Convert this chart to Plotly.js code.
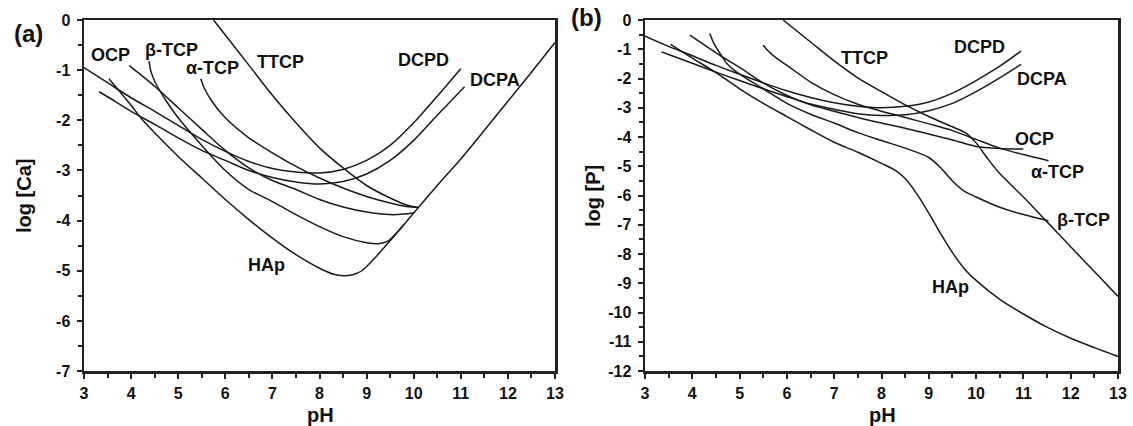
<!DOCTYPE html>
<html>
<head>
<meta charset="utf-8">
<script src="https://cdn.plot.ly/plotly-3.0.1.min.js"></script>
<style>html,body{margin:0;padding:0;background:#fff;}#chart{width:1133px;height:426px;}</style>
</head>
<body>
<div id="chart"></div>
<script>
// ---------- Panel (a): log [Ca] vs pH ----------
const pH_a_DCPD = [3.0,3.5,4.0,4.5,5.0,5.5,6.0,6.5,7.0,7.5,8.0,8.5,9.0,9.5,10.0,10.5,11.0];
const a_DCPD    = [-0.95,-1.25,-1.55,-1.82,-2.1,-2.38,-2.62,-2.82,-2.96,-3.03,-3.05,-2.98,-2.8,-2.5,-2.05,-1.52,-0.97];
const pH_a_DCPA = [3.32,3.5,4.0,4.5,5.0,5.5,6.0,6.5,7.0,7.5,8.0,8.5,9.0,9.5,10.0,10.5,11.08];
const a_DCPA    = [-1.43,-1.53,-1.82,-2.08,-2.35,-2.6,-2.8,-3.0,-3.14,-3.23,-3.27,-3.22,-3.07,-2.8,-2.4,-1.9,-1.33];
const pH_a_HAp  = [3.53,4.0,4.25,4.5,5.0,5.5,6.0,6.5,7.0,7.5,8.0,8.3,8.5,8.7,8.9,9.2,9.5,10.0,10.5,11.0,11.5,12.0,12.5,13.0];
const a_HAp     = [-1.17,-1.7,-2.0,-2.25,-2.72,-3.15,-3.58,-3.98,-4.35,-4.68,-4.95,-5.07,-5.1,-5.08,-5.0,-4.72,-4.4,-3.85,-3.3,-2.77,-2.2,-1.62,-1.04,-0.45];
const pH_a_bTCP = [4.38,4.42,4.5,4.75,5.0,5.5,6.0,6.5,7.0,7.5,8.0,8.5,9.0,9.25,9.45,9.6,9.8];
const a_bTCP    = [-0.82,-1.02,-1.22,-1.62,-1.95,-2.5,-3.0,-3.38,-3.62,-3.88,-4.12,-4.32,-4.44,-4.46,-4.41,-4.28,-4.07];
const pH_a_OCP  = [3.96,4.5,5.0,5.5,6.0,6.5,7.0,7.5,8.0,8.5,9.0,9.5,9.8,10.0];
const a_OCP     = [-0.91,-1.32,-1.75,-2.18,-2.6,-2.95,-3.2,-3.38,-3.58,-3.73,-3.83,-3.88,-3.87,-3.85];
const pH_a_aTCP = [5.48,5.55,5.7,6.0,6.5,7.0,7.5,8.0,8.5,9.0,9.5,9.85,10.1];
const a_aTCP    = [-1.17,-1.35,-1.6,-1.95,-2.35,-2.65,-2.92,-3.15,-3.35,-3.52,-3.65,-3.72,-3.74];
const pH_a_TTCP = [5.75,6.0,6.5,7.0,7.5,8.0,8.5,9.0,9.5,9.85,10.1];
const a_TTCP    = [0,-0.3,-0.9,-1.5,-2.05,-2.55,-2.95,-3.3,-3.55,-3.69,-3.74];

// ---------- Panel (b): log [P] vs pH ----------
const pH_b_DCPD = [3.0,3.5,4.0,4.5,5.0,5.5,6.0,6.5,7.0,7.5,8.0,8.5,9.0,9.5,10.0,10.5,10.95];
const b_DCPD    = [-0.55,-0.9,-1.22,-1.55,-1.85,-2.15,-2.42,-2.65,-2.83,-2.95,-3.0,-2.95,-2.8,-2.5,-2.07,-1.58,-1.06];
const pH_b_DCPA = [3.35,3.5,4.0,4.5,5.0,5.5,6.0,6.5,7.0,7.5,8.0,8.5,9.0,9.5,10.0,10.5,10.95];
const b_DCPA    = [-1.09,-1.18,-1.48,-1.78,-2.07,-2.35,-2.62,-2.87,-3.05,-3.2,-3.26,-3.24,-3.1,-2.85,-2.45,-1.98,-1.52];
const pH_b_HAp  = [3.54,4.0,4.5,5.0,5.5,6.0,6.5,7.0,7.5,8.0,8.3,8.5,8.75,9.0,9.25,9.5,9.75,10.0,10.5,11.0,11.5,12.0,12.5,13.0];
const b_HAp     = [-0.83,-1.3,-1.8,-2.35,-2.85,-3.3,-3.75,-4.18,-4.52,-4.9,-5.15,-5.42,-5.95,-6.6,-7.3,-7.95,-8.5,-8.9,-9.55,-10.05,-10.5,-10.88,-11.2,-11.5];
const pH_b_bTCP = [4.37,4.45,4.55,4.75,5.0,5.5,6.0,6.5,7.0,7.5,8.0,8.5,9.0,9.25,9.5,9.75,10.0,10.5,11.0,11.53];
const b_bTCP    = [-0.46,-0.78,-1.05,-1.52,-1.85,-2.35,-2.85,-3.22,-3.52,-3.85,-4.12,-4.38,-4.7,-5.05,-5.5,-5.85,-6.05,-6.4,-6.65,-6.86];
const pH_b_OCP  = [3.95,4.5,5.0,5.5,6.0,6.5,7.0,7.5,8.0,8.5,9.0,9.5,10.0,10.5,11.0];
const b_OCP     = [-0.52,-1.12,-1.62,-2.15,-2.58,-2.9,-3.12,-3.33,-3.52,-3.7,-3.9,-4.1,-4.32,-4.39,-4.41];
const pH_b_aTCP = [5.5,5.6,5.8,6.0,6.5,7.0,7.5,8.0,8.5,9.0,9.5,10.0,10.5,11.0,11.53];
const b_aTCP    = [-0.86,-1.05,-1.33,-1.55,-2.12,-2.55,-2.88,-3.12,-3.33,-3.55,-3.78,-4.08,-4.38,-4.6,-4.81];
const pH_b_TTCP = [5.92,6.5,7.0,7.5,8.0,8.5,9.0,9.5,9.8,10.0,10.25,10.5,11.0,11.5,12.0,12.5,13.0];
const b_TTCP    = [0,-0.75,-1.4,-1.98,-2.45,-2.9,-3.3,-3.65,-3.88,-4.2,-4.75,-5.25,-6.05,-6.9,-7.75,-8.6,-9.45];

// ---------- labels and ticks ----------
const labelsA = [
  {t:'OCP',   x:3.57,  y:-0.69},
  {t:'β-TCP', x:4.86,  y:-0.59},
  {t:'α-TCP', x:5.73,  y:-0.95},
  {t:'TTCP',  x:7.17,  y:-0.83},
  {t:'DCPD',  x:10.21, y:-0.79},
  {t:'DCPA',  x:11.73, y:-1.2},
  {t:'HAp',   x:6.87,  y:-4.89}
];
const labelsB = [
  {t:'TTCP',  x:7.63,  y:-1.29},
  {t:'DCPD',  x:10.07, y:-0.91},
  {t:'DCPA',  x:11.4,  y:-2.0},
  {t:'OCP',   x:11.24, y:-4.07},
  {t:'α-TCP', x:11.73, y:-5.18},
  {t:'β-TCP', x:12.27, y:-6.83},
  {t:'HAp',   x:9.45,  y:-9.12}
];
const xTicks  = [3,4,5,6,7,8,9,10,11,12,13];
const yTicksA = [0,-1,-2,-3,-4,-5,-6,-7];
const yTicksB = [0,-1,-2,-3,-4,-5,-6,-7,-8,-9,-10,-11,-12];

const lineStyle = {color:'#1a1a1a', width:1.5, shape:'spline', smoothing:0.8};
function tr(x, y, xa, ya){ return {x:x, y:y, xaxis:xa, yaxis:ya, mode:'lines', line:lineStyle, hoverinfo:'skip', showlegend:false}; }

const data = [
  tr(pH_a_DCPD,a_DCPD,'x','y'), tr(pH_a_DCPA,a_DCPA,'x','y'), tr(pH_a_HAp,a_HAp,'x','y'),
  tr(pH_a_bTCP,a_bTCP,'x','y'), tr(pH_a_OCP,a_OCP,'x','y'), tr(pH_a_aTCP,a_aTCP,'x','y'),
  tr(pH_a_TTCP,a_TTCP,'x','y'),
  tr(pH_b_DCPD,b_DCPD,'x2','y2'), tr(pH_b_DCPA,b_DCPA,'x2','y2'), tr(pH_b_HAp,b_HAp,'x2','y2'),
  tr(pH_b_bTCP,b_bTCP,'x2','y2'), tr(pH_b_OCP,b_OCP,'x2','y2'), tr(pH_b_aTCP,b_aTCP,'x2','y2'),
  tr(pH_b_TTCP,b_TTCP,'x2','y2')
];

const FONT = 'Liberation Sans, Arial, sans-serif';
const tickFont = {family:FONT, size:16, color:'#111'};
const boldTxt = v => '<b>' + String(v) + '</b>';
function xAx(domain, anchor){
  return {domain:domain, anchor:anchor, range:[3,13], tickmode:'array', tickvals:xTicks, ticktext:xTicks.map(boldTxt),
    ticks:'outside', ticklen:5, tickwidth:2, ticklabelstandoff:1,
    tickcolor:'#222', showline:true, mirror:true, linecolor:'#222', linewidth:2.5, showgrid:false, zeroline:false,
    tickfont:tickFont, fixedrange:true,
    minor:{dtick:0.5, tick0:3, ticks:'outside', ticklen:4, tickwidth:2, tickcolor:'#222', showgrid:false}};
}
function yAx(range, anchor, vals){
  return {domain:[0.129,0.953], anchor:anchor, range:range, tickmode:'array', tickvals:vals, ticktext:vals.map(boldTxt),
    ticks:'outside', ticklen:5, tickwidth:2, ticklabelstandoff:3,
    tickcolor:'#222', showline:true, mirror:true, linecolor:'#222', linewidth:2.5, showgrid:false, zeroline:false,
    tickfont:tickFont, fixedrange:true,
    minor:{dtick:0.5, tick0:0, ticks:'outside', ticklen:4, tickwidth:2, tickcolor:'#222', showgrid:false}};
}

const annFont = {family:FONT, size:18, color:'#111', weight:'bold'};
const anns = [];
labelsA.forEach(l => anns.push({xref:'x', yref:'y', x:l.x, y:l.y, text:l.t, showarrow:false, xanchor:'center', yanchor:'middle', font:annFont}));
labelsB.forEach(l => anns.push({xref:'x2', yref:'y2', x:l.x, y:l.y, text:l.t, showarrow:false, xanchor:'center', yanchor:'middle', font:annFont}));
const titleFont = {family:FONT, size:20, color:'#111', weight:'bold'};
function paperAnn(px, py, text, font, angle){
  return {xref:'paper', yref:'paper', x:px/1133, y:1-py/426, text:text, showarrow:false, xanchor:'center', yanchor:'middle', font:font, textangle:angle||0};
}
anns.push(paperAnn(320, 415, 'pH', titleFont));
anns.push(paperAnn(882, 415, 'pH', titleFont));
anns.push(paperAnn(24, 196, 'log [Ca]', titleFont, -90));
anns.push(paperAnn(593, 196, 'log [P]', titleFont, -90));
const panelFont = {family:FONT, size:24, color:'#111', weight:'bold'};
anns.push(paperAnn(28, 33, '(a)', panelFont));
anns.push(paperAnn(586, 18, '(b)', panelFont));

const layout = {
  width:1133, height:426, margin:{l:0, r:0, t:0, b:0}, paper_bgcolor:'#fff', plot_bgcolor:'#fff',
  showlegend:false,
  xaxis: xAx([84/1133, 555/1133], 'y'),
  yaxis: yAx([-7,0], 'x', yTicksA),
  xaxis2: xAx([645/1133, 1118/1133], 'y2'),
  yaxis2: yAx([-12,0], 'x2', yTicksB),
  annotations: anns
};

Plotly.newPlot('chart', data, layout, {displayModeBar:false, staticPlot:true});
</script>
</body>
</html>
